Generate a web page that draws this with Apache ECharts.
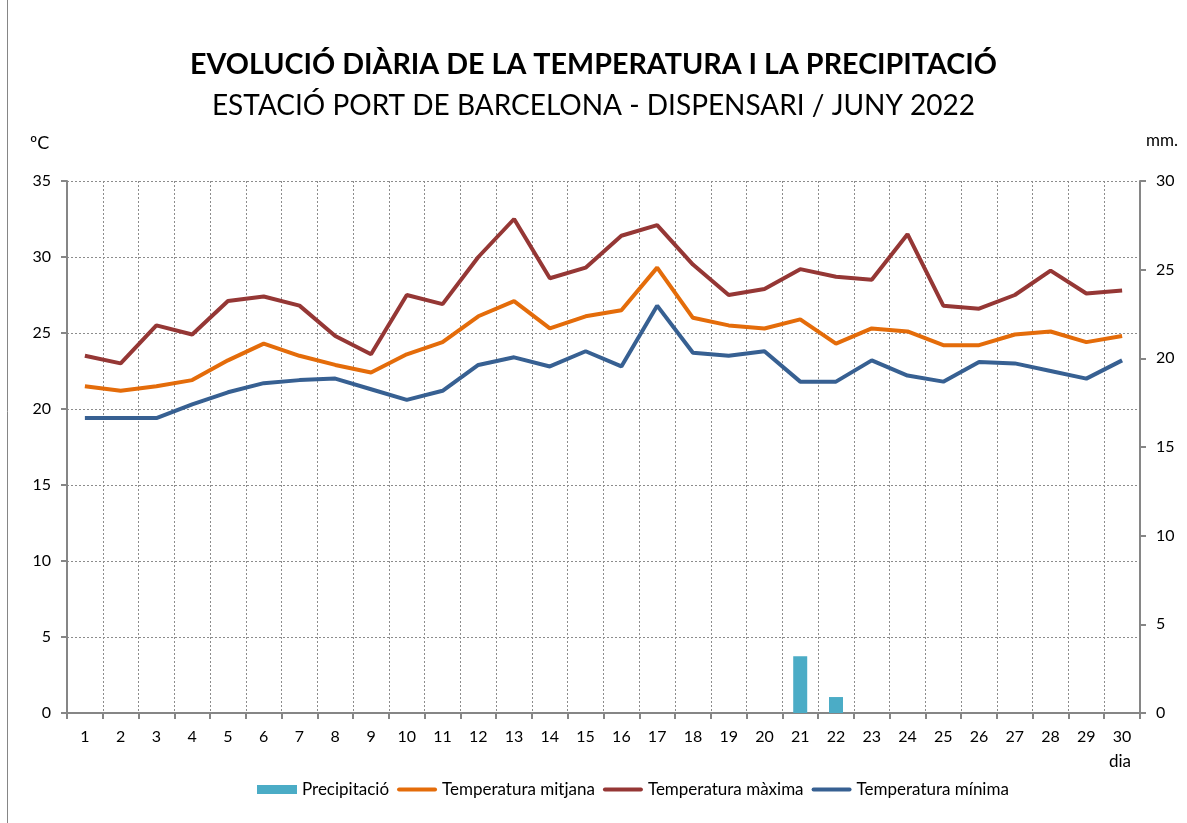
<!DOCTYPE html>
<html>
<head>
<meta charset="utf-8">
<script src="https://cdn.jsdelivr.net/npm/echarts@6/dist/echarts.min.js"></script>
<style>
  html, body { margin: 0; padding: 0; background: #fff; }
  #chart { width: 1187px; height: 823px; }
</style>
</head>
<body>
<div id="chart"></div>
<script>
// dies del mes
const dies = ['1','2','3','4','5','6','7','8','9','10','11','12','13','14','15','16','17','18','19','20','21','22','23','24','25','26','27','28','29','30']

// precipitacio (mm)
const precipitacio = [null,null,null,null,null,null,null,null,null,null,null,null,null,null,null,null,null,null,null,null,3.2,0.9,null,null,null,null,null,null,null,null]

// temperatures (ºC)
const tempMitjana = [21.5,21.2,21.5,21.9,23.2,24.3,23.5,22.9,22.4,23.6,24.4,26.1,27.1,25.3,26.1,26.5,29.3,26.0,25.5,25.3,25.9,24.3,25.3,25.1,24.2,24.2,24.9,25.1,24.4,24.8]
const tempMaxima = [23.5,23.0,25.5,24.9,27.1,27.4,26.8,24.8,23.6,27.5,26.9,30.0,32.5,28.6,29.3,31.4,32.1,29.5,27.5,27.9,29.2,28.7,28.5,31.5,26.8,26.6,27.5,29.1,27.6,27.8]
const tempMinima = [19.4,19.4,19.4,20.3,21.1,21.7,21.9,22.0,21.3,20.6,21.2,22.9,23.4,22.8,23.8,22.8,26.8,23.7,23.5,23.8,21.8,21.8,23.2,22.2,21.8,23.1,23.0,22.5,22.0,23.2]

const font = 'Lato'
const axisGrey = '#868686'
const gridStyle = { color: '#8c8c8c', type: [2, 2], width: 1 }
// icona de linia per a la llegenda (caixa 40x9, traç de 4px)
const lineIcon = 'path://M0,0 M2,2.5 L38,2.5 A2,2 0 0 1 38,6.5 L2,6.5 A2,2 0 0 1 2,2.5 Z M40,9'

const chart = echarts.init(document.getElementById('chart'), null, { renderer: 'canvas' })

const option = {
	backgroundColor: '#fff',
	animation: false,
	title: [
		{
			text: 'EVOLUCIÓ DIÀRIA DE LA TEMPERATURA I LA PRECIPITACIÓ',
			left: 'center',
			top: 45,
			textStyle: { fontFamily: font, fontWeight: 'bold', fontSize: 28.7, color: '#000' }
		},
		{
			text: 'ESTACIÓ PORT DE BARCELONA - DISPENSARI / JUNY 2022',
			left: 'center',
			top: 87,
			textStyle: { fontFamily: font, fontWeight: 'normal', fontSize: 28, color: '#000' }
		}
	],
	legend: {
		bottom: 20,
		left: 252,
		itemGap: 8,
		itemWidth: 40,
		itemHeight: 9,
		textStyle: { fontFamily: font, fontSize: 17, color: '#000' },
		data: [
			{ name: 'Precipitació', icon: 'rect' },
			{ name: 'Temperatura mitjana', icon: lineIcon },
			{ name: 'Temperatura màxima', icon: lineIcon },
			{ name: 'Temperatura mínima', icon: lineIcon }
		]
	},
	grid: { left: 67, right: 47, top: 181, bottom: 110 },
	xAxis: {
		type: 'category',
		data: dies,
		boundaryGap: true,
		axisLine: { lineStyle: { color: axisGrey, width: 2 } },
		axisTick: { show: true, interval: 0, length: 6, lineStyle: { color: axisGrey, width: 2 } },
		axisLabel: { interval: 0, margin: 16, fontFamily: font, fontSize: 16, color: '#000' },
		splitLine: { show: true, interval: 0, lineStyle: gridStyle }
	},
	yAxis: [
		{
			type: 'value',
			min: 0,
			max: 35,
			interval: 5,
			axisLine: { show: true, lineStyle: { color: axisGrey, width: 2 } },
			axisTick: { show: true, length: 6, lineStyle: { color: axisGrey, width: 2 } },
			axisLabel: { margin: 16, fontFamily: font, fontSize: 16, color: '#000' },
			splitLine: { show: true, lineStyle: gridStyle }
		},
		{
			type: 'value',
			min: 0,
			max: 30,
			interval: 5,
			position: 'right',
			axisLine: { show: true, lineStyle: { color: axisGrey, width: 2 } },
			axisTick: { show: true, length: 6, lineStyle: { color: axisGrey, width: 2 } },
			axisLabel: { margin: 16, fontFamily: font, fontSize: 16, color: '#000' },
			splitLine: { show: false }
		}
	],
	series: [
		{
			name: 'Precipitació',
			type: 'bar',
			yAxisIndex: 1,
			data: precipitacio,
			barWidth: 14,
			itemStyle: { color: '#4BACC6' }
		},
		{
			name: 'Temperatura mitjana',
			type: 'line',
			data: tempMitjana,
			showSymbol: false,
			symbol: 'none',
			lineStyle: { color: '#E46C0A', width: 4 },
			itemStyle: { color: '#E46C0A' }
		},
		{
			name: 'Temperatura màxima',
			type: 'line',
			data: tempMaxima,
			showSymbol: false,
			symbol: 'none',
			lineStyle: { color: '#953735', width: 4 },
			itemStyle: { color: '#953735' }
		},
		{
			name: 'Temperatura mínima',
			type: 'line',
			data: tempMinima,
			showSymbol: false,
			symbol: 'none',
			lineStyle: { color: '#376092', width: 4 },
			itemStyle: { color: '#376092' }
		}
	],
	graphic: [
		{
			type: 'rect',
			shape: { x: 7.5, y: -2, width: 1185, height: 830 },
			style: { fill: 'none', stroke: '#868686', lineWidth: 1 },
			silent: true
		},
		{
			type: 'text',
			left: 30,
			top: 134,
			style: { text: 'ºC', font: '18px ' + font, fill: '#000' }
		},
		{
			type: 'text',
			left: 1146,
			top: 132,
			style: { text: 'mm.', font: '17px ' + font, fill: '#000' }
		},
		{
			type: 'text',
			left: 1109,
			top: 753,
			style: { text: 'dia', font: '17px ' + font, fill: '#000' }
		}
	]
}

chart.setOption(option)
</script>
</body>
</html>
